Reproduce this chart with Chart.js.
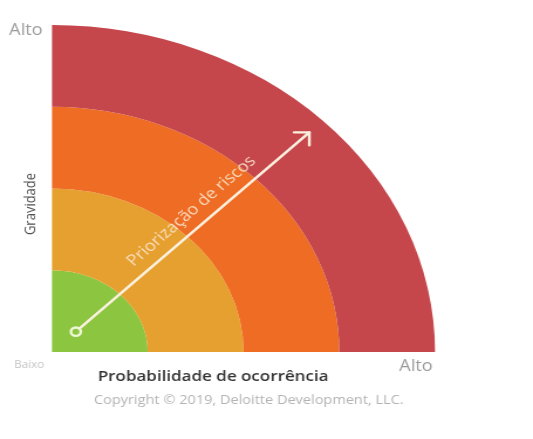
<!DOCTYPE html>
<html lang="pt">
<head>
<meta charset="utf-8">
<title>Priorização de riscos</title>
<script src="https://cdn.jsdelivr.net/npm/chart.js@4/dist/chart.umd.min.js"></script>
<style>
  html, body { margin: 0; padding: 0; background: #ffffff; }
  body { width: 533px; height: 439px; overflow: hidden; }
  /* The diagram is laid out on a narrower canvas and widened horizontally,
     which turns the quarter circles into quarter ellipses. */
  #wrap {
    position: relative;
    width: 455px;
    height: 439px;
    transform: scaleX(1.1714);
    transform-origin: 0 0;
  }
</style>
</head>
<body>
<div id="wrap"><canvas id="chart"></canvas></div>
<script>
// Risk bands, from the outermost ring to the innermost one
const riskLevels = ['Crítico', 'Alto', 'Médio', 'Baixo'];
// Relative width of each ring
const ringWeights = [1, 1, 1, 1];
// Each band covers the whole quadrant
const quadrantShare = [1];

// Axis wording
const cornerLabel = 'Baixo';
const gravityLabels = ['Alto'];
const probabilityLabels = ['Alto'];
const yAxisTitle = 'Gravidade';
const xAxisTitle = 'Probabilidade de ocorrência';
const arrowLabel = 'Priorização de riscos';
const creditLine = 'Copyright © 2019, Deloitte Development, LLC.';

// Ring colours, outer to inner
const ringColors = ['#c5474b', '#ee6c23', '#e6a02f', '#8cc53f'];

const FONT = '"Open Sans", "Noto Sans", sans-serif';

// Arrow from the corner towards the outer band, plus its caption
const arrowPlugin = {
  id: 'priorityArrow',
  afterDatasetsDraw(chart) {
    const arc = chart.getDatasetMeta(0).data[0];
    if (!arc) return;
    const { x: cx, y: cy, outerRadius: R } = arc;
    const ctx = chart.ctx;
    const d = Math.SQRT1_2;
    const at = (r) => [cx + r * R * d, cy - r * R * d];
    const [x0, y0] = at(0.088);
    const [x1, y1] = at(0.95);

    ctx.save();
    ctx.strokeStyle = '#fbf1e0';
    ctx.lineWidth = 2.4;
    ctx.lineCap = 'round';
    ctx.lineJoin = 'round';

    // shaft, starting at the edge of the small ring
    const ringR = 4.2;
    ctx.beginPath();
    ctx.moveTo(x0 + ringR * d, y0 - ringR * d);
    ctx.lineTo(x1, y1);
    ctx.stroke();

    // open arrow head
    const head = 13;
    ctx.beginPath();
    ctx.moveTo(x1 - head, y1);
    ctx.lineTo(x1, y1);
    ctx.lineTo(x1, y1 + head);
    ctx.stroke();

    // start ring
    ctx.strokeStyle = '#eef7d6';
    ctx.lineWidth = 2.4;
    ctx.beginPath();
    ctx.arc(x0, y0, ringR, 0, Math.PI * 2);
    ctx.stroke();

    // caption along the arrow
    const [tx, ty] = at(0.562);
    ctx.translate(tx - 11 * d, ty - 11 * d);
    ctx.rotate(-Math.PI / 4);
    ctx.fillStyle = 'rgba(250, 226, 200, 0.92)';
    ctx.font = '15.5px ' + FONT;
    ctx.textAlign = 'center';
    ctx.textBaseline = 'alphabetic';
    ctx.fillText(arrowLabel, 0, 0);
    ctx.restore();
  }
};

// Axis labels, titles and credit line
const labelsPlugin = {
  id: 'axisTexts',
  afterDraw(chart) {
    const ca = chart.chartArea;
    const ctx = chart.ctx;
    ctx.save();
    ctx.textBaseline = 'middle';

    // top of the gravity axis
    ctx.fillStyle = '#9a9a9a';
    ctx.font = '15.5px ' + FONT;
    ctx.textAlign = 'right';
    ctx.fillText(gravityLabels[0], ca.left - 8, ca.top + 6);

    // right end of the probability axis
    ctx.fillText(probabilityLabels[0], ca.right - 2, ca.bottom + 15);

    // shared low corner
    ctx.fillStyle = '#c4c4c4';
    ctx.font = '10px ' + FONT;
    ctx.textAlign = 'center';
    ctx.fillText(cornerLabel, ca.left - 19.5, ca.bottom + 13);

    // vertical axis title
    ctx.save();
    ctx.translate(ca.left - 18, ca.top + 179);
    ctx.rotate(-Math.PI / 2);
    ctx.fillStyle = '#505050';
    ctx.font = '13px ' + FONT;
    ctx.textAlign = 'center';
    ctx.fillText(yAxisTitle, 0, 0);
    ctx.restore();

    // horizontal axis title
    ctx.fillStyle = '#333333';
    ctx.font = '600 14.5px ' + FONT;
    ctx.textAlign = 'left';
    ctx.fillText(xAxisTitle, ca.left + 39, ca.bottom + 25);

    // credit line
    ctx.fillStyle = '#b3b3b3';
    ctx.font = '12.4px ' + FONT;
    ctx.textAlign = 'center';
    ctx.fillText(creditLine, ca.left + 168, ca.bottom + 48);

    ctx.restore();
  }
};

const datasets = riskLevels.map((level, i) => ({
  label: level,
  data: quadrantShare,
  weight: ringWeights[i],
  backgroundColor: ringColors[i],
  borderWidth: 0,
  hoverOffset: 0
}));

new Chart(document.getElementById('chart'), {
  type: 'doughnut',
  data: { labels: ['Risco'], datasets },
  options: {
    responsive: true,
    maintainAspectRatio: false,
    animation: false,
    events: [],
    rotation: 0,
    circumference: 90,
    cutout: 0,
    layout: { padding: { left: 44.4, right: 83.6, top: 25, bottom: 87 } },
    plugins: {
      legend: { display: false },
      tooltip: { enabled: false },
      title: { display: false }
    }
  },
  plugins: [arrowPlugin, labelsPlugin]
});
</script>
</body>
</html>
